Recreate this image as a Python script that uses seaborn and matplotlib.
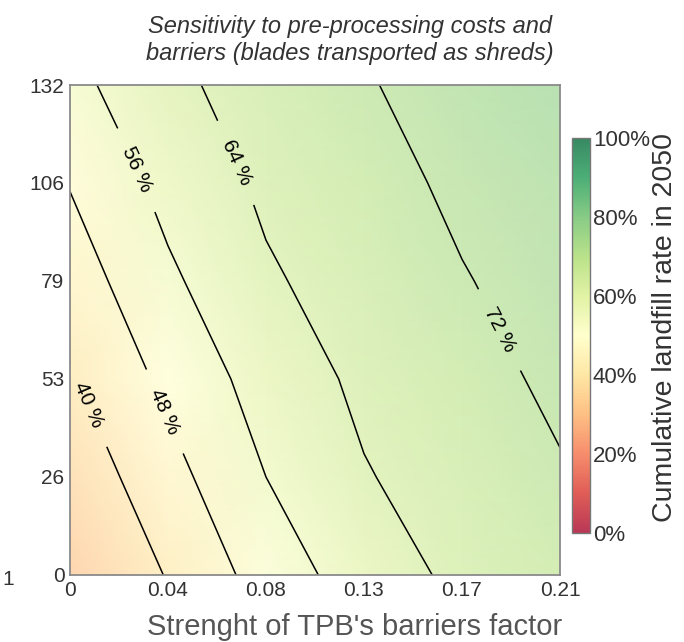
import numpy as np
import matplotlib
matplotlib.use("Agg")
import matplotlib.pyplot as plt
import seaborn as sns
from matplotlib.colors import ListedColormap, Normalize
from matplotlib.cm import ScalarMappable

# barrier factor (x) and pre-processing cost (y) grid
barrier_factor = [0.0, 0.042, 0.084, 0.126, 0.168, 0.21]
preproc_cost = [0.0, 26.4, 52.8, 79.2, 105.6, 132.0]

# cumulative landfill rate in 2050 (%), one row per pre-processing cost
landfill_y0 = [30.0, 40.5, 51.3, 60.1, 65.7, 69.5]
landfill_y26 = [34.6, 45.2, 56.0, 63.5, 67.5, 71.4]
landfill_y53 = [39.2, 49.9, 59.4, 65.6, 69.5, 73.4]
landfill_y79 = [43.8, 54.6, 63.0, 67.5, 71.6, 74.8]
landfill_y106 = [48.4, 58.5, 65.4, 69.4, 73.4, 76.0]
landfill_y132 = [53.6, 62.3, 67.3, 71.4, 75.2, 78.0]

contour_levels = [40, 48, 56, 64, 72]
xtick_labels = ["0", "0.04", "0.08", "0.13", "0.17", "0.21"]
ytick_labels = ["0", "26", "53", "79", "106", "132"]
cbar_ticks = [0, 20, 40, 60, 80, 100]

sns.set_style("white")
plt.rcParams["font.family"] = ["Liberation Sans", "DejaVu Sans"]

Z = np.array([landfill_y0, landfill_y26, landfill_y53,
              landfill_y79, landfill_y106, landfill_y132])
X, Y = np.meshgrid(barrier_factor, preproc_cost)


def faded(alpha):
    cols = np.array(sns.color_palette("RdYlGn", 256))
    return ListedColormap(alpha * cols + (1 - alpha) * np.ones_like(cols))


field_cmap = faded(0.5)
bar_cmap = faded(0.78)

fig = plt.figure(figsize=(6.84, 6.42), dpi=100)
ax = fig.add_axes([0.1023, 0.1044, 0.7164, 0.7632])
cax = fig.add_axes([0.8363, 0.1698, 0.0263, 0.6153])

ax.pcolormesh(X, Y, Z, shading="gouraud", cmap=field_cmap, vmin=0, vmax=100)
cs = ax.contour(X, Y, Z, levels=contour_levels, colors="k", linewidths=1.1)
label_pos = [(0.0077, 45.8), (0.047, 45.8), (0.027, 108.6), (0.064, 109.0), (0.184, 66.0)]
ax.clabel(cs, fmt="%d %%", fontsize=15, inline=True, inline_spacing=22,
          manual=label_pos)

ax.set_xlim(0, 0.21)
ax.set_ylim(0, 132)
ax.set_xticks(barrier_factor)
ax.set_xticklabels(xtick_labels)
ax.set_yticks(preproc_cost)
ax.set_yticklabels(ytick_labels)
ax.tick_params(length=0, labelsize=15, labelcolor="#333333", pad=4)
for s in ax.spines.values():
    s.set_color("#8a8a8a")
    s.set_linewidth(1.3)

sm = ScalarMappable(norm=Normalize(0, 100), cmap=bar_cmap)
cb = fig.colorbar(sm, cax=cax, ticks=cbar_ticks)
cb.ax.set_yticklabels([f"{t}%" for t in cbar_ticks])
cb.ax.tick_params(length=0, labelsize=16, labelcolor="#333333", pad=2)
cb.outline.set_edgecolor("#777777")
cb.outline.set_linewidth(1.0)

fig.text(0.512, 0.938, "Sensitivity to pre-processing costs and\nbarriers (blades transported as shreds)",
         ha="center", va="center", fontsize=17, style="italic", color="#333333",
         linespacing=1.2)
fig.text(0.519, 0.024, "Strenght of TPB's barriers factor", ha="center", va="center",
         fontsize=21, color="#555555")
fig.text(0.972, 0.49, "Cumulative landfill rate in 2050", ha="center", va="center",
         rotation=90, fontsize=20.5, color="#333333")
fig.text(0.012, 0.097, "1", ha="center", va="center", fontsize=15, color="#333333")

fig.savefig("out.png", dpi=100)
